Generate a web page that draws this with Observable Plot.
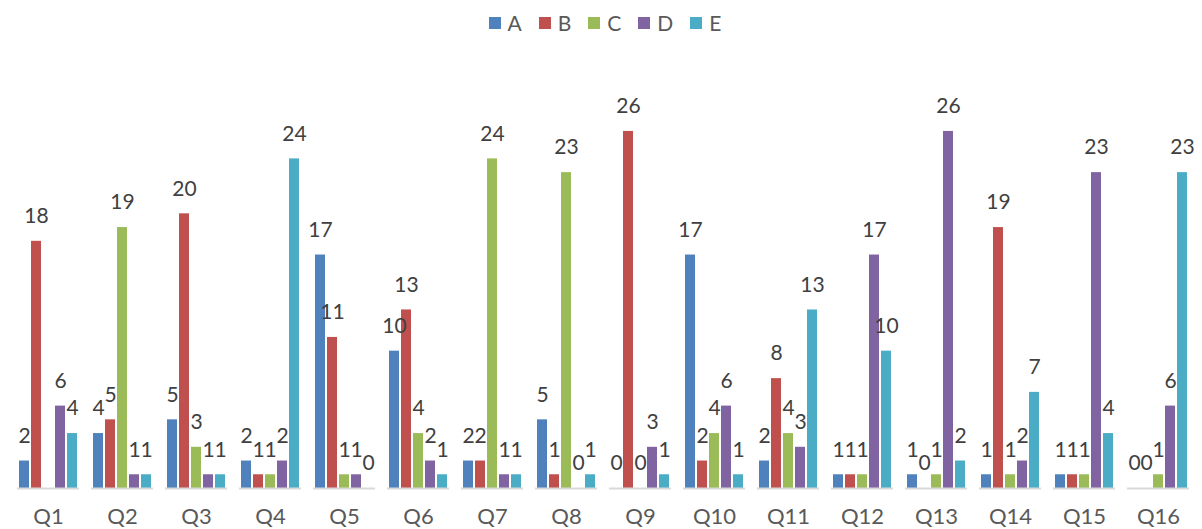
<!DOCTYPE html>
<html>
<head>
<meta charset="utf-8">
<script src="https://cdn.jsdelivr.net/npm/d3@7"></script>
<script src="https://cdn.jsdelivr.net/npm/@observablehq/plot@0.6"></script>
<style>
  html, body { margin: 0; padding: 0; background: #fff; }
  body { width: 1202px; height: 529px; overflow: hidden; font-family: Lato, "Open Sans", sans-serif; }
  #legend { height: 45px; display: flex; justify-content: center; align-items: center; gap: 17px; color: #595959; font-size: 21px; padding-left: 8px; box-sizing: border-box; }
  #legend .item { display: flex; align-items: center; gap: 7px; }
  #legend .sw { width: 12px; height: 12px; display: inline-block; }
  #chart svg { display: block; }
</style>
</head>
<body>
<div id="legend"></div>
<div id="chart"></div>
<script>
const questions = ["Q1","Q2","Q3","Q4","Q5","Q6","Q7","Q8","Q9","Q10","Q11","Q12","Q13","Q14","Q15","Q16"];
const series = ["A","B","C","D","E"];
const colors = ["#4F81BD","#C0504D","#9BBB59","#8064A2","#4BACC6"];
const valuesA = [2,4,5,2,17,10,2,5,0,17,2,1,1,1,1,0];
const valuesB = [18,5,20,1,11,13,2,1,26,2,8,1,0,19,1,0];
const valuesC = [null,19,3,1,1,4,24,23,0,4,4,1,1,1,1,1];
const valuesD = [6,1,1,2,1,2,1,0,3,6,3,17,26,2,23,6];
const valuesE = [4,1,1,24,0,1,1,1,1,1,13,10,2,7,4,23];

const seriesValues = [valuesA, valuesB, valuesC, valuesD, valuesE];
const data = [];
questions.forEach((q, i) => {
  series.forEach((s, j) => {
    const v = seriesValues[j][i];
    if (v !== null && v !== undefined) data.push({q, s, v});
  });
});

const legend = document.getElementById("legend");
series.forEach((s, j) => {
  const it = document.createElement("div");
  it.className = "item";
  it.innerHTML = `<span class="sw" style="background:${colors[j]}"></span><span>${s}</span>`;
  legend.appendChild(it);
});

const chart = Plot.plot({
  width: 1202,
  height: 484,
  marginTop: 31,
  marginBottom: 41,
  marginLeft: 8,
  marginRight: 3,
  style: {fontFamily: "Lato, 'Open Sans', sans-serif", background: "#fff"},
  fx: {domain: questions, paddingInner: 0.16, paddingOuter: 0.08, label: null, axis: null},
  x: {domain: series, axis: null, paddingInner: 0.2, paddingOuter: 0.1},
  y: {domain: [0, 30], axis: null},
  color: {domain: series, range: colors},
  marks: [
    Plot.axisFx({anchor: "bottom", tickSize: 0, tickPadding: 20, fontSize: 22, fill: "#595959", label: null}),
    Plot.barY(data, {fx: "q", x: "s", y: "v", fill: "s"}),
    Plot.text(data, {fx: "q", x: "s", y: "v", text: d => String(d.v), dy: -25, fontSize: 21, fill: "#404040"}),
    Plot.ruleY([0], {stroke: "#d9d9d9", strokeWidth: 2})
  ]
});
document.getElementById("chart").appendChild(chart);
</script>
</body>
</html>
